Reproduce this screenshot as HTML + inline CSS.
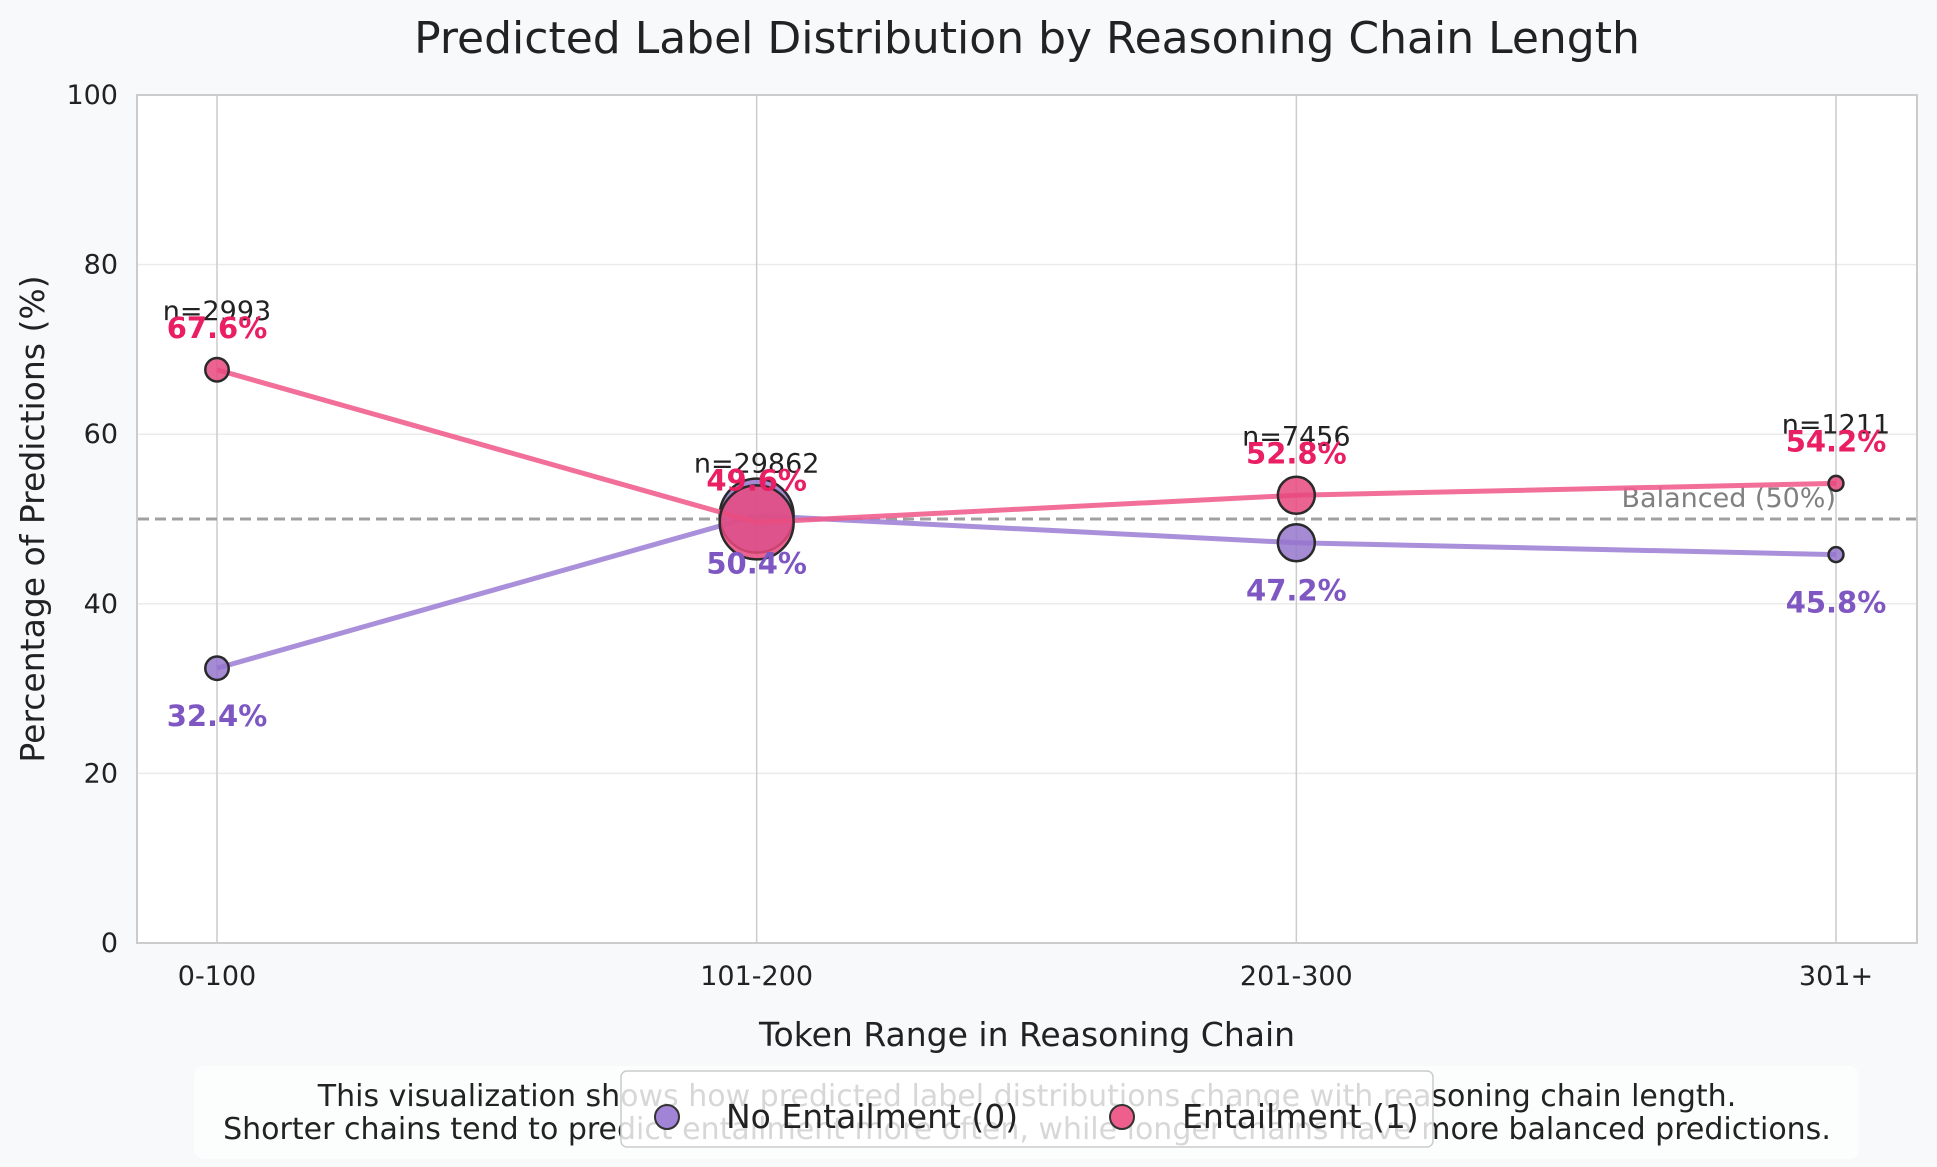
<!DOCTYPE html>
<html><head><meta charset="utf-8"><style>
html,body{margin:0;padding:0;background:#f8f9fa;}
svg{display:block;font-family:"DejaVu Sans","Liberation Sans",sans-serif;}
</style></head><body>
<svg id="chart" width="1937" height="1167" viewBox="0 0 1937 1167" xmlns="http://www.w3.org/2000/svg">
<rect width="1937" height="1167" fill="#f8f9fa"/>
<text x="1027" y="53" text-anchor="middle" font-size="44" fill="#222">Predicted Label Distribution by Reasoning Chain Length</text>
<rect x="137" y="95" width="1780" height="848" fill="#ffffff" stroke="#cccccc" stroke-width="2"/>
<g id="grid"></g>
<g id="marks"></g>
<text transform="translate(44,519) rotate(-90)" text-anchor="middle" font-size="33" fill="#222">Percentage of Predictions (%)</text>
<text x="1027" y="1046" text-anchor="middle" font-size="33" fill="#222">Token Range in Reasoning Chain</text>
<rect x="194" y="1066" width="1665" height="93" rx="10" fill="#fcfdfd"/>
<text x="1027" y="1106" text-anchor="middle" font-size="30" fill="#222">This visualization shows how predicted label distributions change with reasoning chain length.</text>
<text x="1027" y="1139" text-anchor="middle" font-size="30" fill="#222">Shorter chains tend to predict entailment more often, while longer chains have more balanced predictions.</text>
<g>
<rect x="621" y="1071" width="812" height="76" rx="6" fill="#ffffff" fill-opacity="0.82" stroke="#cccccc" stroke-width="1.5"/>
<circle cx="667" cy="1117" r="12" fill="#a184d6" stroke="#333" stroke-width="2"/>
<text x="726" y="1128" font-size="33" fill="#222">No Entailment (0)</text>
<circle cx="1122" cy="1117" r="12" fill="#ef5f8e" stroke="#333" stroke-width="2"/>
<text x="1182" y="1128" font-size="33" fill="#222">Entailment (1)</text>
</g>
</svg>
<script>
const categories = ["0-100", "101-200", "201-300", "301+"];
const noEntailment = [32.4, 50.4, 47.2, 45.8];
const entailment = [67.6, 49.6, 52.8, 54.2];
const counts = [2993, 29862, 7456, 1211];
const yTicks = [0, 20, 40, 60, 80, 100];

const NS = "http://www.w3.org/2000/svg";
const x = i => 217 + i * (1836 - 217) / (categories.length - 1);
const y = v => 943 - v * (943 - 95) / 100;
const rad = n => 0.214 * Math.sqrt(n);
function mk(tag, attrs, parent, text) {
  const el = document.createElementNS(NS, tag);
  for (const k in attrs) el.setAttribute(k, attrs[k]);
  if (text !== undefined) el.textContent = text;
  parent.appendChild(el);
  return el;
}
const grid = document.getElementById("grid");
const marks = document.getElementById("marks");
const svg = document.getElementById("chart");

yTicks.forEach(t => {
  if (t > 0 && t < 100) {
    const l = mk("line", {x1:138, x2:1916, y1:y(t), y2:y(t), stroke:"#ebebeb", "stroke-width":1.5}, grid);
    
    
  }
  const tx = mk("text", {x:118, y:y(t)+9, "text-anchor":"end", "font-size":27, fill:"#222"}, svg, String(t));
  
  
});
categories.forEach((c, i) => {
  const l = mk("line", {x1:x(i), x2:x(i), y1:96, y2:942, stroke:"#cccccc", "stroke-width":1.5}, grid);
  
  
  const tx = mk("text", {x:x(i), y:985, "text-anchor":"middle", "font-size":27, fill:"#222"}, svg, c);
  
  
});

const bl = mk("line", {x1:138, x2:1916, y1:y(50), y2:y(50), stroke:"#a0a0a0", "stroke-width":3, "stroke-dasharray":"11,6"}, marks);


const bt = mk("text", {x:x(3), y:y(50)-12, "text-anchor":"end", "font-size":27, fill:"#808080"}, marks, "Balanced (50%)");



function series(vals, lineColor, fill, name) {
  const pts = vals.map((v, i) => x(i) + "," + y(v)).join(" ");
  const pl = mk("polyline", {points:pts, fill:"none", stroke:lineColor, "stroke-width":5, "stroke-opacity":0.9}, marks);
  
  
  vals.forEach((v, i) => {
    const c = mk("circle", {cx:x(i), cy:y(v), r:rad(counts[i]), fill:fill, "fill-opacity":0.85, stroke:"#2a2a2a", "stroke-width":2.5}, marks);
    
    
  });
}
series(noEntailment, "#a184d6", "#9575cd", "no-entailment");
series(entailment, "#ef5f8e", "#e8497e", "entailment");

categories.forEach((c, i) => {
  const t1 = mk("text", {x:x(i), y:y(entailment[i])-50, "text-anchor":"middle", "font-size":27, fill:"#222"}, marks, "n=" + counts[i]);
  
  
  const t2 = mk("text", {x:x(i), y:y(entailment[i])-32, "text-anchor":"middle", "font-size":29, "font-weight":"bold", fill:"#e91e63"}, marks, entailment[i].toFixed(1) + "%");
  
  
  const t3 = mk("text", {x:x(i), y:y(noEntailment[i])+58, "text-anchor":"middle", "font-size":29, "font-weight":"bold", fill:"#7e57c2"}, marks, noEntailment[i].toFixed(1) + "%");
  
  
});
</script>
</body></html>
